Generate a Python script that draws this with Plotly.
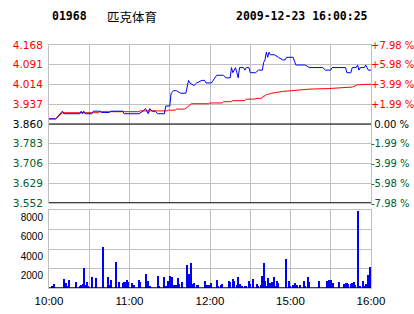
import plotly.graph_objects as go

# ---------------- data ----------------
code = "01968"
name = "匹克体育"
stamp = "2009-12-23 16:00:25"
prev_close = 3.860

# trading-minute index from the open (0 = 10:00, 150 = 12:30/14:30, 240 = 16:00)
price_t = [0, 5, 10, 11, 23, 24, 25, 26, 27, 32, 33, 38, 39, 45, 46, 55, 56, 67, 70, 72,
           74, 75, 77, 79, 81, 86, 87, 90, 91, 93, 95, 98, 102, 104, 105, 108, 110, 114,
           116, 117, 121, 124, 125, 130, 132, 135, 136, 137, 139, 140, 141, 142, 145, 146,
           147, 149, 150, 154, 156, 159, 160, 161, 162, 163, 164, 165, 168, 171, 174, 176,
           177, 182, 184, 191, 194, 204, 206, 210, 211, 221, 222, 225, 226, 229, 230, 231,
           232, 235, 236, 237, 238, 240]
price_v = [3.88, 3.88, 3.91, 3.90, 3.90, 3.91, 3.90, 3.91, 3.90, 3.90, 3.91, 3.91, 3.905,
           3.905, 3.91, 3.91, 3.90, 3.90, 3.91, 3.92, 3.90, 3.92, 3.91, 3.91, 3.90, 3.90,
           3.93, 3.93, 3.98, 3.99, 3.99, 3.98, 3.98, 4.03, 4.02, 4.01, 4.02, 4.03, 4.03,
           4.02, 4.02, 4.04, 4.05, 4.05, 4.04, 4.04, 4.08, 4.06, 4.08, 4.06, 4.04, 4.08,
           4.08, 4.07, 4.08, 4.08, 4.06, 4.06, 4.07, 4.07, 4.10, 4.11, 4.14, 4.12, 4.14,
           4.13, 4.13, 4.12, 4.11, 4.11, 4.12, 4.12, 4.09, 4.09, 4.08, 4.08, 4.07, 4.07,
           4.08, 4.08, 4.06, 4.06, 4.08, 4.08, 4.09, 4.07, 4.08, 4.08, 4.09, 4.08, 4.07,
           4.07]

avg_t = [0, 5, 10, 37, 38, 67, 68, 88, 89, 94, 95, 101, 103, 105, 106, 119, 120, 129, 130,
         136, 137, 146, 147, 153, 155, 158, 160, 162, 166, 174, 181, 194, 208, 226, 230, 240]
avg_v = [3.880, 3.880, 3.904, 3.904, 3.908, 3.908, 3.911, 3.911, 3.914, 3.914, 3.918,
         3.918, 3.925, 3.935, 3.939, 3.939, 3.942, 3.942, 3.947, 3.947, 3.951, 3.951,
         3.957, 3.957, 3.960, 3.960, 3.966, 3.974, 3.980, 3.987, 3.990, 3.996, 3.998,
         4.004, 4.013, 4.015]

vol_t = [2, 4, 11, 12, 13, 14, 15, 20, 23, 24, 25, 26, 27, 28, 29, 32, 35, 40, 44, 45, 46,
         50, 52, 55, 56, 57, 58, 59, 62, 63, 67, 68, 72, 73, 74, 75, 81, 82, 86, 87, 89, 90,
         91, 92, 93, 95, 96, 97, 99, 103, 104, 105, 106, 107, 108, 110, 111, 116, 117, 118,
         119, 121, 125, 126, 128, 129, 134, 135, 137, 138, 140, 141, 142, 143, 144, 146,
         147, 149, 150, 152, 155, 156, 158, 159, 160, 161, 162, 163, 164, 165, 166, 168,
         169, 170, 171, 177, 179, 180, 182, 183, 185, 187, 190, 191, 193, 194, 201, 207,
         208, 209, 210, 212, 216, 220, 221, 222, 223, 225, 226, 227, 228, 230, 231, 232,
         234, 235, 236, 237, 238, 239, 240]
vol_v = [240, 450, 970, 345, 550, 240, 860, 655, 240, 345, 450, 2100, 345, 655, 240, 1170,
         1070, 4170, 1170, 345, 860, 2620, 655, 550, 655, 655, 860, 655, 550, 345, 860, 655,
         1480, 240, 760, 240, 1280, 240, 1170, 240, 760, 1280, 1070, 1170, 345, 345, 1070,
         450, 655, 2310, 1480, 655, 2520, 450, 550, 345, 345, 760, 345, 345, 345, 550, 860,
         240, 345, 450, 760, 655, 970, 760, 345, 1170, 450, 240, 240, 240, 240, 760, 450,
         970, 450, 240, 345, 1280, 2520, 760, 240, 1070, 450, 550, 655, 1170, 240, 760, 550,
         2930, 760, 240, 345, 550, 345, 345, 760, 240, 1170, 655, 760, 760, 240, 860, 860,
         550, 655, 450, 550, 550, 450, 450, 550, 655, 345, 7900, 240, 240, 760, 240, 450,
         450, 1380, 2150, 345]

price_ticks = [3.552, 3.629, 3.706, 3.783, 3.860, 3.937, 4.014, 4.091, 4.168]
pct_labels = ["-7.98 %", "-5.98 %", "-3.99 %", "-1.99 %", "\u00a00.00 %",
              "+1.99 %", "+3.99 %", "+5.98 %", "+7.98 %"]
time_ticks = [0, 30, 60, 90, 120, 150, 180, 210, 240]
time_labels = ["10:00", "", "11:00", "", "12:00", "", "15:00", "", "16:00"]
vol_ticks = [2000, 4000, 6000, 8000]
vol_labels = ["2000", "4000", "6000", "8000"]

# ---------------- styling ----------------
RED = "#ff0000"
GREEN = "#006030"
BLUE = "#0000ff"
GRID = "#c0c0c0"


def colour_for(v):
    if abs(v - prev_close) < 1e-9:
        return "#000000"
    return RED if v > prev_close else GREEN


left_text = ['<span style="color:%s">%.3f</span>' % (colour_for(v), v) for v in price_ticks]
right_text = ['<span style="color:%s">%s</span>' % (colour_for(v), s)
              for v, s in zip(price_ticks, pct_labels)]

fig = go.Figure()
fig.add_trace(go.Scatter(x=avg_t, y=avg_v, mode="lines", line=dict(color=RED, width=1),
                         xaxis="x", yaxis="y", hoverinfo="skip"))
fig.add_trace(go.Scatter(x=price_t, y=price_v, mode="lines", line=dict(color=BLUE, width=1),
                         xaxis="x", yaxis="y", hoverinfo="skip"))
fig.add_trace(go.Bar(x=vol_t, y=vol_v, width=0.75, marker=dict(color=BLUE, line=dict(width=0)),
                     xaxis="x2", yaxis="y2", hoverinfo="skip"))
# invisible trace to anchor right axis
fig.add_trace(go.Scatter(x=[0], y=[prev_close], mode="markers", marker=dict(opacity=0),
                         xaxis="x", yaxis="y3", hoverinfo="skip"))

H = 314
top, pb, vt, bot = 45, 203, 210, 288
plot_h = bot - top


def frac(ypix):
    return (bot - ypix) / plot_h


axis_common = dict(showline=True, mirror=True, linecolor=GRID, linewidth=1,
                   gridcolor=GRID, gridwidth=1, zeroline=False, ticks="", automargin=False)

fig.update_layout(
    width=414, height=H,
    margin=dict(l=49, r=43, t=top, b=H - bot, pad=0, autoexpand=False),
    paper_bgcolor="white", plot_bgcolor="white",
    showlegend=False,
    bargap=0,
    xaxis=dict(domain=[0, 1], range=[0, 240], tickvals=time_ticks, showticklabels=False,
               anchor="y", **axis_common),
    yaxis=dict(domain=[frac(pb), 1], range=[price_ticks[0], price_ticks[-1]],
               tickvals=price_ticks, ticktext=left_text,
               tickfont=dict(family="DejaVu Sans", size=10.5), ticklabelstandoff=3,
               **axis_common),
    yaxis3=dict(overlaying="y", side="right", range=[price_ticks[0], price_ticks[-1]],
                tickvals=price_ticks, ticktext=right_text, showgrid=False, zeroline=False,
                showline=False, ticks="", ticklabelstandoff=-1, automargin=False,
                tickfont=dict(family="DejaVu Sans", size=10)),
    xaxis2=dict(domain=[0, 1], range=[0, 240], tickvals=time_ticks, ticktext=time_labels,
                tickfont=dict(family="Liberation Sans", size=11.5, color="#000"),
                anchor="y2", ticklabelstandoff=2, **axis_common),
    yaxis2=dict(domain=[0, frac(vt)], range=[0, 8000], tickvals=vol_ticks, ticktext=vol_labels,
                tickfont=dict(family="Liberation Sans", size=10, color="#000"),
                ticklabelposition="outside bottom", ticklabelstandoff=3, **axis_common),
)

# black reference lines: previous close, price-panel bottom, volume baseline
fig.add_shape(type="line", xref="x domain", yref="y", x0=0, x1=1, y0=prev_close, y1=prev_close,
              line=dict(color="black", width=1))
fig.add_shape(type="line", xref="x domain", yref="y", x0=0, x1=1,
              y0=price_ticks[0], y1=price_ticks[0], line=dict(color="black", width=1.5))
fig.add_shape(type="line", xref="x2 domain", yref="y2", x0=0, x1=1, y0=0, y1=0,
              line=dict(color="black", width=1.5))

title_font = dict(family="DejaVu Sans Mono", size=11.5, color="black")
fig.add_annotation(text="<b>%s</b>" % code, xref="paper", yref="paper", x=0.0, xshift=1,
                   y=1, yshift=29, xanchor="left", yanchor="middle", showarrow=False,
                   font=title_font)
fig.add_annotation(text=name, xref="paper", yref="paper", x=0.0, xshift=56,
                   y=1, yshift=29, xanchor="left", yanchor="middle", showarrow=False,
                   font=dict(family="Noto Sans CJK SC", size=12.5, color="black"))
fig.add_annotation(text="<b>%s</b>" % stamp, xref="paper", yref="paper", x=1.0, xshift=-1,
                   y=1, yshift=29, xanchor="right", yanchor="middle", showarrow=False,
                   font=title_font)

fig.write_html("out.html")
